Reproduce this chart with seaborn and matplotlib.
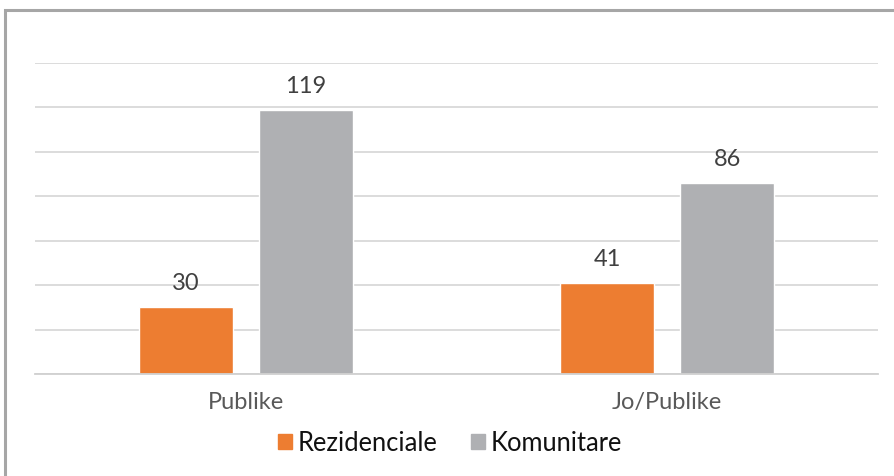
import pandas as pd
import matplotlib.pyplot as plt
import seaborn as sns
from matplotlib.patches import Rectangle


categories = ['Publike', 'Jo/Publike']
rezidenciale = [30, 41]
komunitare = [119, 86]
series_names = ['Rezidenciale', 'Komunitare']
colors = ['#ED7D31', '#AFB0B3']

df = pd.DataFrame({
    'kategoria': categories * 2,
    'seria': [series_names[0]] * 2 + [series_names[1]] * 2,
    'vlera': rezidenciale + komunitare,
})

sns.set_style('white')
plt.rcParams['font.family'] = ['Lato', 'DejaVu Sans']

fig = plt.figure(figsize=(8.94, 4.77), dpi=100)
ax = fig.add_axes([35 / 894, 1 - 375 / 477, (878 - 35) / 894, (375 - 64) / 477])

sns.barplot(data=df, x='kategoria', y='vlera', hue='seria', order=categories,
            hue_order=series_names, palette=colors, width=0.568, gap=0.215,
            saturation=1, legend=False, ax=ax)

for cont in ax.containers:
    ax.bar_label(cont, padding=10, fontsize=17, color='#404040')

ax.set_ylim(0, 140)
ax.set_yticks(range(0, 141, 20))
ax.set_xlim(-0.5, 1.5)
ax.yaxis.grid(True, color='#D9D9D9', linewidth=1.3)
ax.set_axisbelow(True)
ax.tick_params(axis='y', left=False, labelleft=False)
ax.tick_params(axis='x', bottom=False, pad=9, labelsize=17, labelcolor='#595959')
ax.set_xlabel('')
ax.set_ylabel('')
for side in ['top', 'right', 'left']:
    ax.spines[side].set_visible(False)
ax.spines['bottom'].set_color('#D0D0D0')
ax.spines['bottom'].set_linewidth(1.3)

handles = [Rectangle((0, 0), 1, 1, color=c) for c in colors]
fig.legend(handles, series_names, loc='center', ncol=2, frameon=False,
           bbox_to_anchor=(450 / 894, 1 - 444 / 477), fontsize=18.4,
           labelcolor='#111111', handlelength=0.55, handleheight=0.55,
           handletextpad=0.24, columnspacing=1.3)

# outer chart frame, cut off at the right and bottom
fig.add_artist(Rectangle((5 / 894, -0.1), 1.1, 1.1 - 11 / 477,
                         transform=fig.transFigure, fill=False,
                         edgecolor='#A6A6A6', linewidth=2.2))

plt.savefig('out.png', dpi=100)
